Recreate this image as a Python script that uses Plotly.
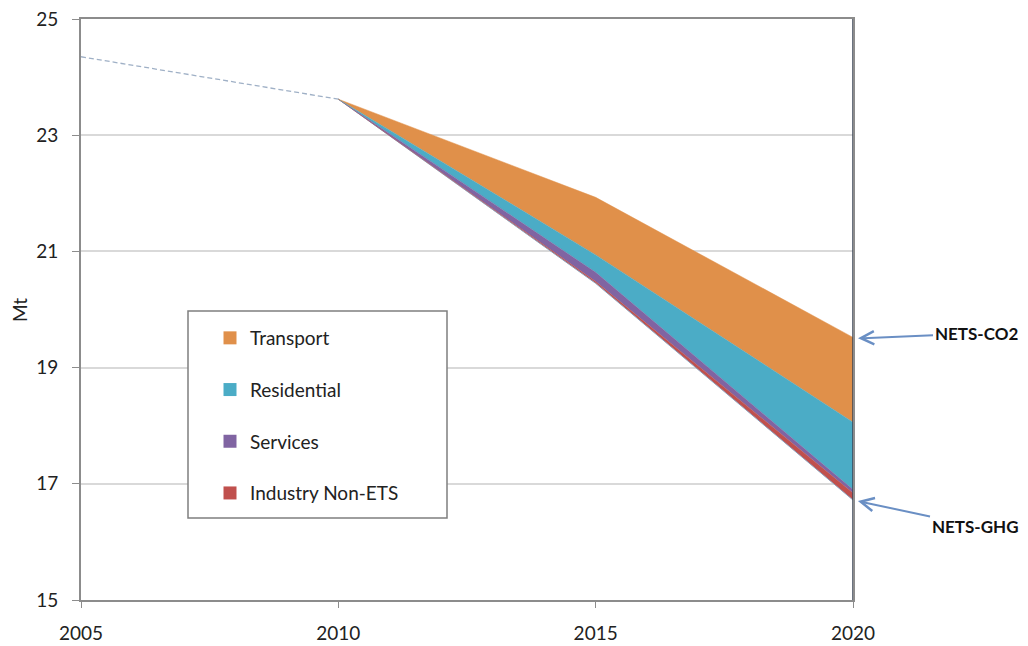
import plotly.graph_objects as go

# historic emissions (Mt)
hist_years = [2005, 2010]
hist_values = [24.35, 23.62]

# projection years and the NETS-GHG base path
proj_years = [2010, 2015, 2020]
base_values = [23.62, 20.45, 16.72]

# layer thicknesses stacked on the base (Mt)
sectors = ["Industry Non-ETS", "Services", "Residential", "Transport"]
industry = [0.0, 0.03, 0.12]
services = [0.0, 0.16, 0.06]
residential = [0.0, 0.30, 1.16]
transport = [0.0, 0.99, 1.46]
layers = [industry, services, residential, transport]
colors = ["#C0504D", "#8064A2", "#4BACC6", "#E0904A"]

# page body has an 8px margin, so the figure is drawn 8px in
W, H, OFF = 1028, 646, 8
L, R, T, B = 81 - OFF, 853 - OFF, 19 - OFF, 600 - OFF
pw, ph = R - L, B - T


def px(x):
    return (x - OFF - L) / pw


def py(y):
    return (B - (y - OFF)) / ph


fig = go.Figure()

fig.add_trace(
    go.Scatter(
        x=hist_years,
        y=hist_values,
        mode="lines",
        line=dict(color="#9FB0C6", width=1.3, dash="5px,3px"),
        showlegend=False,
        hoverinfo="skip",
    )
)

# base line to fill from
fig.add_trace(
    go.Scatter(
        x=proj_years,
        y=base_values,
        mode="lines",
        line=dict(color="#8AA0BC", width=1),
        showlegend=False,
        hoverinfo="skip",
    )
)

running = list(base_values)
for name, layer, color in zip(sectors, layers, colors):
    running = [r + v for r, v in zip(running, layer)]
    fig.add_trace(
        go.Scatter(
            x=proj_years,
            y=running,
            mode="lines",
            name=name,
            line=dict(color=color, width=0.5),
            fill="tonexty",
            fillcolor=color,
            showlegend=False,
        )
    )

# legend-only square swatches, Transport on top
for rank, (name, color) in enumerate(reversed(list(zip(sectors, colors)))):
    fig.add_trace(
        go.Scatter(
            x=[None],
            y=[None],
            mode="markers",
            name=name,
            legendgroup=name,
            legendrank=rank + 1,
            marker=dict(symbol="square", size=13, color=color),
        )
    )

# right border line at 2020
fig.add_shape(
    type="line", xref="x", yref="paper", x0=2020, x1=2020, y0=0, y1=1,
    line=dict(color="#3A4556", width=1.5),
)

# legend box
fig.add_shape(
    type="rect", xref="paper", yref="paper",
    x0=px(188), x1=px(447), y0=py(518), y1=py(311),
    line=dict(color="#7F7F7F", width=1.5), fillcolor="white", layer="above",
)

fig.add_annotation(
    x=2020, y=19.5, xref="x", yref="y",
    text="<b>NETS-CO2</b>", showarrow=True, axref="pixel", ayref="pixel",
    ax=123, ay=-5, arrowhead=5, arrowsize=1.3, arrowwidth=2,
    arrowcolor="#6A8FC4", standoff=5,
    font=dict(family="Lato, sans-serif", size=17, color="#111"),
)
fig.add_annotation(
    x=2020, y=16.72, xref="x", yref="y",
    text="<b>NETS-GHG</b>", showarrow=True, axref="pixel", ayref="pixel",
    ax=122, ay=26, arrowhead=5, arrowsize=1.3, arrowwidth=2,
    arrowcolor="#6A8FC4", standoff=5,
    font=dict(family="Lato, sans-serif", size=17, color="#111"),
)

# y axis title
fig.add_annotation(
    x=px(19), y=py(310), xref="paper", yref="paper",
    xanchor="center", yanchor="middle",
    text="Mt", showarrow=False, textangle=-90,
    font=dict(family="Lato, sans-serif", size=19, color="#222"),
)

fig.update_layout(
    width=W,
    height=H,
    margin=dict(l=L, r=W - R, t=T, b=H - B, autoexpand=False),
    plot_bgcolor="white",
    paper_bgcolor="white",
    font=dict(family="Lato, sans-serif", size=19, color="#222"),
    legend=dict(
        x=px(210),
        y=py(319),
        xanchor="left",
        yanchor="top",
        traceorder="grouped",
        tracegroupgap=24,
        bgcolor="rgba(0,0,0,0)",
        borderwidth=0,
        font=dict(size=19),
    ),
    xaxis=dict(
        range=[2005, 2020],
        tickvals=[2005, 2010, 2015, 2020],
        showgrid=False,
        showline=True,
        linecolor="#8C8C8C",
        linewidth=2,
        mirror=True,
        ticks="outside",
        ticklen=6,
        tickcolor="#8C8C8C",
        ticklabelstandoff=9,
        ticklabeloverflow="allow",
        zeroline=False,
        automargin=False,
    ),
    yaxis=dict(
        range=[15, 25],
        tickvals=[15, 17, 19, 21, 23, 25],
        showgrid=True,
        gridcolor="#D9D9D9",
        gridwidth=1.5,
        showline=True,
        linecolor="#8C8C8C",
        linewidth=2,
        mirror=True,
        ticks="outside",
        ticklen=7,
        tickcolor="#8C8C8C",
        ticklabelstandoff=10,
        ticklabeloverflow="allow",
        zeroline=False,
        automargin=False,
    ),
)

fig.write_html("out.html")
